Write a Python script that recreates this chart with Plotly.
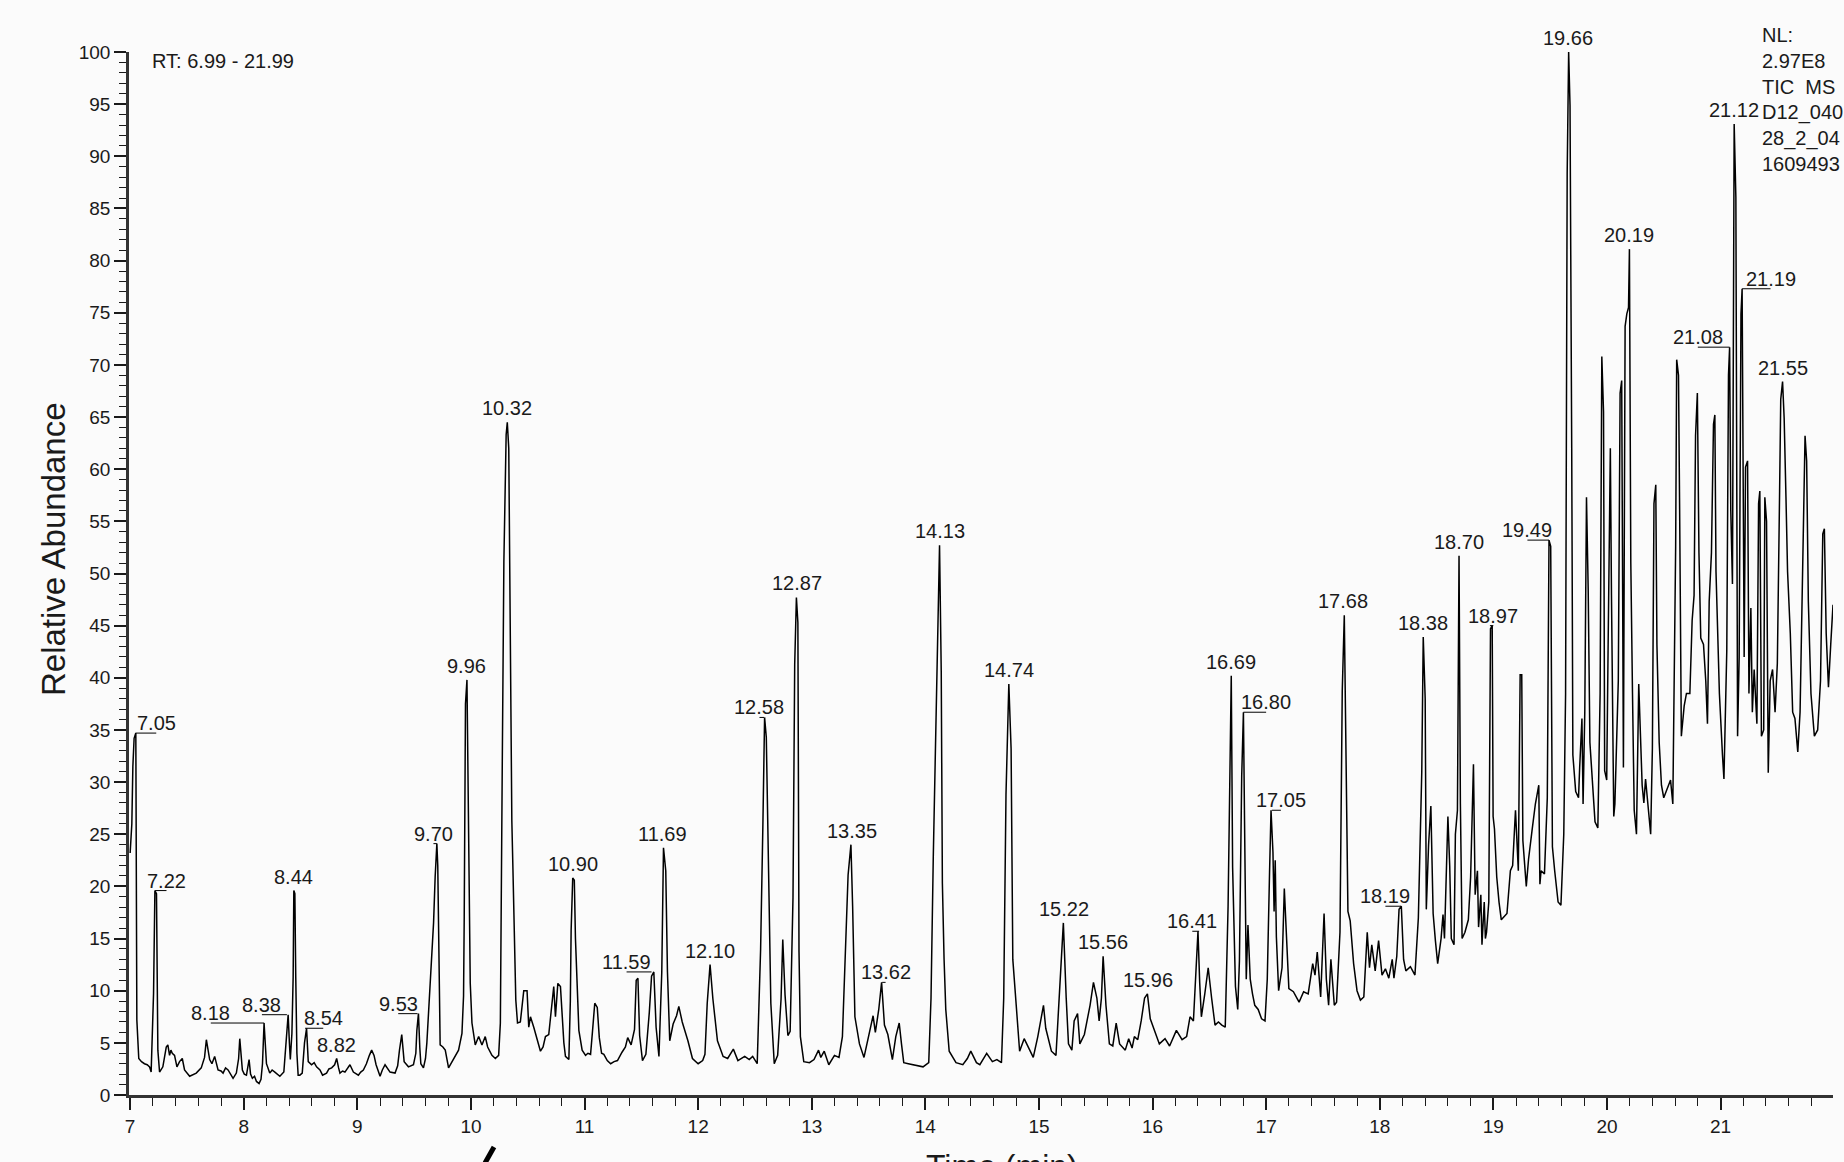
import plotly.graph_objects as go

# ---------------- data ----------------
# (retention time [min], relative abundance [%])
seg_07_09 = [
    (7.000, 23.2), (7.015, 26.0), (7.024, 31.5), (7.035, 34.2), (7.050, 34.7), (7.059, 7.2),
    (7.076, 3.5), (7.100, 3.2), (7.126, 3.0), (7.150, 2.9), (7.171, 2.7), (7.185, 2.2),
    (7.206, 9.7), (7.218, 19.6), (7.232, 19.3), (7.244, 4.3), (7.259, 2.2), (7.288, 2.7),
    (7.318, 4.6), (7.332, 4.8), (7.347, 3.8), (7.359, 4.3), (7.371, 4.0), (7.391, 3.8),
    (7.412, 2.7), (7.435, 3.2), (7.459, 3.5), (7.479, 2.4), (7.524, 1.8), (7.550, 1.9),
    (7.582, 2.1), (7.626, 2.6), (7.655, 3.6), (7.671, 5.3), (7.685, 4.3), (7.700, 3.4),
    (7.720, 3.0), (7.744, 3.7), (7.774, 2.4), (7.800, 2.3), (7.818, 2.1), (7.840, 2.6),
    (7.862, 2.4), (7.885, 2.0), (7.906, 1.6), (7.935, 2.1), (7.955, 3.5), (7.965, 5.4),
    (7.975, 4.0), (7.988, 2.4), (8.005, 2.0), (8.024, 1.9), (8.047, 3.4), (8.060, 2.0),
    (8.076, 1.6), (8.095, 1.8), (8.112, 1.3), (8.135, 1.1), (8.152, 1.5), (8.165, 3.0),
    (8.179, 6.9), (8.190, 4.5), (8.200, 3.0), (8.229, 2.1), (8.250, 2.4), (8.274, 2.2),
    (8.300, 2.0), (8.318, 1.8), (8.353, 2.2), (8.371, 5.0), (8.391, 7.7), (8.402, 5.0),
    (8.410, 3.4), (8.424, 5.9), (8.435, 11.3), (8.441, 19.6), (8.450, 19.3), (8.458, 11.3),
    (8.468, 4.0), (8.479, 1.9), (8.494, 1.9), (8.515, 2.1), (8.535, 5.0), (8.553, 6.4),
    (8.568, 3.2), (8.597, 2.9), (8.620, 3.1), (8.641, 2.7), (8.671, 2.4), (8.694, 1.9),
    (8.729, 2.1), (8.750, 2.5), (8.774, 2.6), (8.800, 2.9), (8.818, 3.5), (8.835, 2.6),
    (8.847, 2.1), (8.870, 2.3), (8.891, 2.2), (8.935, 2.9), (8.965, 2.2),
]
seg_09_11 = [
    (9.009, 1.9), (9.030, 2.2), (9.053, 2.4), (9.080, 3.0), (9.106, 3.8), (9.126, 4.3),
    (9.147, 3.8), (9.165, 2.9), (9.200, 1.8), (9.220, 2.4), (9.244, 2.9), (9.288, 2.2),
    (9.332, 2.1), (9.355, 2.8), (9.371, 4.3), (9.391, 5.8), (9.412, 3.2), (9.450, 2.7),
    (9.494, 2.9), (9.515, 4.0), (9.524, 6.2), (9.538, 7.8), (9.550, 4.5), (9.559, 3.0),
    (9.582, 2.6), (9.600, 3.5), (9.612, 5.0), (9.641, 10.7), (9.671, 16.5), (9.685, 20.9),
    (9.700, 24.1), (9.708, 22.0), (9.715, 15.2), (9.722, 9.0), (9.729, 4.8), (9.753, 4.6),
    (9.774, 4.3), (9.803, 2.6), (9.825, 3.0), (9.847, 3.5), (9.891, 4.3), (9.921, 5.9),
    (9.935, 9.5), (9.941, 17.1), (9.952, 37.5), (9.965, 39.8), (9.977, 29.9), (9.987, 17.0),
    (9.994, 10.7), (10.009, 6.9), (10.038, 4.8), (10.068, 5.6), (10.097, 4.8), (10.126, 5.6),
    (10.147, 4.6), (10.185, 3.8), (10.215, 3.5), (10.244, 3.8), (10.259, 6.9), (10.276, 32.0),
    (10.290, 51.2), (10.310, 63.3), (10.320, 64.5), (10.333, 62.0), (10.348, 36.9), (10.360, 26.3),
    (10.370, 21.5), (10.385, 11.8), (10.395, 9.1), (10.410, 6.9), (10.435, 7.0), (10.465, 10.0),
    (10.494, 10.0), (10.509, 6.5), (10.524, 7.5), (10.553, 6.5), (10.582, 5.3), (10.612, 4.2),
    (10.635, 4.6), (10.656, 5.6), (10.685, 5.8), (10.715, 9.1), (10.729, 10.4), (10.744, 7.5),
    (10.765, 10.7), (10.788, 10.4), (10.803, 7.5), (10.818, 5.0), (10.832, 3.7), (10.862, 3.4),
    (10.875, 9.0), (10.882, 15.8), (10.896, 20.8), (10.910, 20.6), (10.920, 15.0), (10.929, 11.7),
    (10.950, 6.2), (10.979, 4.3),
]
seg_11_13 = [
    (11.009, 3.8), (11.030, 4.0), (11.053, 3.9), (11.070, 6.1), (11.090, 8.8), (11.112, 8.4),
    (11.130, 5.5), (11.150, 4.0), (11.170, 3.9), (11.200, 3.3), (11.230, 3.0), (11.260, 3.2),
    (11.290, 3.3), (11.330, 4.1), (11.360, 4.6), (11.380, 5.5), (11.410, 4.8), (11.440, 6.3),
    (11.455, 11.0), (11.470, 11.2), (11.485, 5.7), (11.510, 3.3), (11.540, 3.9), (11.570, 7.9),
    (11.590, 11.4), (11.610, 11.8), (11.630, 6.5), (11.655, 3.7), (11.680, 11.8), (11.695, 23.7),
    (11.715, 21.5), (11.730, 11.8), (11.750, 5.2), (11.780, 6.8), (11.810, 7.6), (11.830, 8.5),
    (11.860, 7.0), (11.910, 5.2), (11.950, 3.5), (12.000, 3.0), (12.040, 3.3), (12.060, 3.9),
    (12.080, 8.8), (12.105, 12.5), (12.130, 9.2), (12.170, 5.2), (12.220, 3.7), (12.260, 3.5),
    (12.310, 4.4), (12.350, 3.3), (12.380, 3.5), (12.410, 3.7), (12.450, 3.4), (12.480, 3.7),
    (12.520, 3.0), (12.550, 14.0), (12.570, 25.9), (12.585, 36.2), (12.600, 34.3), (12.620, 19.3),
    (12.640, 8.8), (12.670, 3.0), (12.700, 3.8), (12.730, 9.2), (12.745, 14.9), (12.765, 9.6),
    (12.790, 5.7), (12.810, 6.1), (12.835, 18.9), (12.850, 41.3), (12.865, 47.7), (12.878, 45.3),
    (12.888, 13.7), (12.900, 5.6), (12.930, 3.2), (12.980, 3.1),
]
seg_13_15 = [
    (13.020, 3.4), (13.060, 4.3), (13.080, 3.6), (13.110, 4.2), (13.150, 2.9), (13.200, 3.8),
    (13.240, 3.6), (13.270, 5.6), (13.300, 14.8), (13.320, 21.1), (13.345, 24.0), (13.360, 18.1),
    (13.380, 7.5), (13.420, 4.9), (13.460, 3.6), (13.510, 6.0), (13.540, 7.6), (13.560, 6.0),
    (13.590, 8.2), (13.615, 10.8), (13.640, 6.7), (13.670, 5.8), (13.710, 3.4), (13.740, 5.6),
    (13.770, 6.9), (13.790, 4.9), (13.810, 3.1), (13.850, 3.0), (13.890, 2.9), (13.940, 2.8),
    (13.980, 2.7), (14.030, 3.1), (14.050, 9.3), (14.070, 22.9), (14.090, 35.0), (14.110, 46.0),
    (14.125, 52.7), (14.140, 40.6), (14.150, 20.3), (14.165, 13.0), (14.180, 8.2), (14.210, 4.2),
    (14.270, 3.1), (14.330, 2.9), (14.370, 3.5), (14.400, 4.2), (14.450, 3.1), (14.480, 2.9),
    (14.510, 3.4), (14.540, 4.0), (14.590, 3.2), (14.630, 3.4), (14.670, 3.1), (14.690, 9.3),
    (14.710, 28.8), (14.735, 39.4), (14.755, 33.2), (14.770, 13.0), (14.800, 8.6), (14.830, 4.2),
    (14.870, 5.4), (14.920, 4.2), (14.950, 3.6), (14.990, 5.6),
]
seg_15_17 = [
    (15.040, 8.6), (15.060, 6.4), (15.110, 4.2), (15.150, 3.8), (15.190, 11.5), (15.215, 16.5),
    (15.240, 9.3), (15.260, 4.9), (15.290, 4.3), (15.310, 7.1), (15.340, 7.8), (15.360, 4.9),
    (15.400, 5.8), (15.450, 8.6), (15.480, 10.8), (15.510, 9.3), (15.530, 7.1), (15.550, 9.3),
    (15.565, 13.3), (15.590, 8.6), (15.620, 4.9), (15.650, 4.7), (15.680, 6.9), (15.710, 4.9),
    (15.760, 4.3), (15.790, 5.4), (15.820, 4.5), (15.840, 5.6), (15.870, 5.3), (15.900, 7.1),
    (15.930, 9.3), (15.955, 9.7), (15.980, 7.3), (16.020, 6.0), (16.060, 4.9), (16.110, 5.4),
    (16.150, 4.7), (16.210, 6.2), (16.260, 5.3), (16.300, 5.6), (16.330, 7.5), (16.360, 7.1),
    (16.380, 11.9), (16.400, 15.7), (16.415, 10.8), (16.430, 7.5), (16.460, 9.7), (16.490, 12.2),
    (16.520, 9.3), (16.550, 6.7), (16.580, 7.0), (16.610, 6.7), (16.640, 6.5), (16.665, 18.1),
    (16.680, 29.9), (16.693, 40.2), (16.705, 21.8), (16.730, 10.4), (16.750, 8.2), (16.765, 12.9),
    (16.785, 30.6), (16.800, 36.7), (16.810, 26.2), (16.825, 11.1), (16.840, 16.3), (16.860, 11.1),
    (16.880, 9.7), (16.900, 8.6), (16.930, 8.2), (16.960, 7.3), (16.990, 7.1),
]
seg_17_19 = [
    (17.010, 11.1), (17.030, 21.3), (17.043, 27.3), (17.060, 23.3), (17.070, 17.6), (17.080, 22.5),
    (17.090, 15.2), (17.110, 10.0), (17.140, 12.2), (17.160, 19.8), (17.180, 14.4), (17.200, 10.2),
    (17.240, 9.9), (17.270, 9.3), (17.290, 8.9), (17.330, 9.9), (17.370, 9.7), (17.410, 12.6),
    (17.430, 11.5), (17.450, 13.7), (17.480, 9.4), (17.510, 17.4), (17.530, 11.1), (17.550, 8.6),
    (17.570, 13.0), (17.600, 8.6), (17.620, 8.9), (17.650, 15.6), (17.670, 38.7), (17.688, 46.0),
    (17.700, 33.9), (17.720, 17.6), (17.740, 16.7), (17.770, 12.6), (17.800, 10.0), (17.830, 9.1),
    (17.860, 9.4), (17.890, 15.6), (17.910, 12.2), (17.930, 14.4), (17.960, 11.9), (17.990, 14.8),
    (18.020, 11.5), (18.050, 12.1), (18.080, 11.2), (18.110, 13.0), (18.125, 11.2), (18.150, 13.3),
    (18.170, 17.8), (18.190, 18.1), (18.210, 13.0), (18.230, 11.9), (18.270, 12.3), (18.310, 11.5),
    (18.340, 17.0), (18.370, 31.0), (18.383, 43.9), (18.400, 38.0), (18.410, 17.8), (18.430, 24.0),
    (18.450, 27.7), (18.470, 17.4), (18.490, 14.8), (18.510, 12.6), (18.540, 15.0), (18.557, 17.3),
    (18.570, 15.0), (18.586, 22.6), (18.600, 26.7), (18.616, 22.0), (18.630, 15.0), (18.654, 14.4),
    (18.666, 25.0), (18.684, 27.3), (18.698, 51.7), (18.710, 27.9), (18.725, 15.0), (18.750, 15.6),
    (18.780, 16.8), (18.800, 20.9), (18.825, 31.7), (18.840, 19.2), (18.860, 21.5), (18.870, 16.1),
    (18.890, 19.2), (18.900, 14.4), (18.920, 18.5), (18.930, 15.0), (18.940, 15.6), (18.960, 18.5),
    (18.975, 44.7), (18.990, 45.0), (18.998, 26.7),
]
seg_19_20 = [
    (19.010, 25.5), (19.030, 20.9), (19.050, 18.5), (19.070, 16.8), (19.120, 17.4), (19.150, 21.5),
    (19.170, 22.0), (19.195, 27.3), (19.220, 21.5), (19.236, 40.3), (19.250, 40.3), (19.260, 24.4),
    (19.290, 20.0), (19.310, 22.6), (19.340, 25.3), (19.370, 27.9), (19.400, 29.7), (19.410, 20.2),
    (19.420, 21.5), (19.450, 21.2), (19.475, 28.5), (19.490, 53.2), (19.505, 52.6), (19.520, 23.8),
    (19.540, 21.5), (19.570, 18.5), (19.595, 18.2), (19.620, 25.0), (19.636, 38.5), (19.650, 88.4),
    (19.663, 100.0), (19.675, 94.9), (19.690, 62.0), (19.700, 32.6), (19.725, 29.1), (19.750, 28.5),
    (19.760, 31.4), (19.780, 36.1), (19.790, 27.9), (19.805, 36.7), (19.820, 57.3), (19.835, 48.5),
    (19.850, 33.8), (19.870, 30.3), (19.895, 26.2), (19.920, 25.6), (19.940, 38.5), (19.955, 70.8),
    (19.970, 65.5), (19.980, 31.1), (19.998, 30.2),
]
seg_20_21 = [
    (20.010, 42.6), (20.030, 62.0), (20.040, 47.9), (20.060, 26.7), (20.070, 27.9), (20.090, 35.0),
    (20.100, 39.7), (20.116, 67.3), (20.130, 68.5), (20.145, 31.4), (20.160, 73.7), (20.175, 74.9),
    (20.190, 75.5), (20.198, 81.1), (20.210, 51.1), (20.225, 38.5), (20.240, 27.3), (20.260, 25.0),
    (20.280, 39.4), (20.310, 29.7), (20.325, 28.0), (20.340, 30.3), (20.370, 26.7), (20.385, 25.0),
    (20.400, 33.2), (20.414, 56.7), (20.430, 58.5), (20.440, 43.2), (20.460, 33.8), (20.480, 29.7),
    (20.500, 28.5), (20.530, 29.4), (20.560, 30.2), (20.580, 27.9), (20.590, 37.3), (20.605, 52.6),
    (20.614, 70.5), (20.630, 69.0), (20.640, 56.1), (20.655, 34.4), (20.680, 37.3), (20.700, 38.5),
    (20.730, 38.5), (20.750, 45.5), (20.767, 47.9), (20.780, 63.2), (20.796, 67.3), (20.810, 52.0),
    (20.826, 43.8), (20.850, 43.2), (20.870, 39.7), (20.885, 35.6), (20.900, 47.3), (20.920, 52.0),
    (20.938, 64.3), (20.950, 65.2), (20.960, 50.2), (20.990, 38.5),
]
seg_21_22 = [
    (21.017, 32.6), (21.030, 30.3), (21.055, 42.6), (21.070, 69.0), (21.080, 71.7), (21.090, 56.1),
    (21.105, 49.0), (21.120, 93.1), (21.135, 86.1), (21.150, 34.4), (21.164, 42.0), (21.180, 74.9),
    (21.190, 77.3), (21.208, 42.0), (21.220, 60.2), (21.238, 60.8), (21.250, 38.5), (21.267, 46.7),
    (21.280, 36.7), (21.296, 40.8), (21.320, 35.6), (21.335, 56.7), (21.346, 57.9), (21.360, 34.4),
    (21.380, 35.0), (21.390, 57.3), (21.405, 55.0), (21.420, 30.9), (21.437, 39.7), (21.458, 40.8),
    (21.480, 36.7), (21.500, 41.4), (21.520, 57.9), (21.530, 66.7), (21.546, 68.4), (21.560, 64.9),
    (21.576, 57.3), (21.590, 50.2), (21.614, 44.3), (21.635, 36.7), (21.655, 36.1), (21.680, 32.9),
    (21.700, 36.7), (21.720, 50.2), (21.744, 63.2), (21.758, 60.8), (21.773, 47.3), (21.796, 38.5),
    (21.826, 34.4), (21.855, 35.0), (21.880, 39.7), (21.900, 53.8), (21.914, 54.3), (21.930, 44.3),
    (21.950, 39.1), (21.970, 43.2), (21.990, 47.0),
]

labelled_rt = [7.05, 7.22, 8.18, 8.38, 8.44, 8.54, 8.82, 9.53, 9.70, 9.96, 10.32, 10.90,
               11.59, 11.69, 12.10, 12.58, 12.87, 13.35, 13.62, 14.13, 14.74, 15.22, 15.56,
               15.96, 16.41, 16.69, 16.80, 17.05, 17.68, 18.19, 18.38, 18.70, 18.97, 19.49,
               19.66, 20.19, 21.08, 21.12, 21.19, 21.55]

x_tick_values = list(range(7, 22))
y_tick_values = list(range(0, 101, 5))
rt_range_text = "RT: 6.99 - 21.99"
header_lines = ["NL:", "2.97E8", "TIC\u00a0 MS", "D12_040", "28_2_04", "1609493"]
x_title = "Time (min)"
y_title = "Relative Abundance"

# ---------------- placement / style ----------------
# horizontal offset (min) of a label placed beside its peak, joined by a leader line
label_offset = {7.05: 0.18, 7.22: 0.10, 8.18: -0.47, 8.38: -0.22, 8.54: 0.16, 9.53: -0.17,
                9.70: -0.03, 11.59: -0.22, 12.58: -0.04, 13.62: 0.03, 16.41: -0.06,
                16.80: 0.20, 17.05: 0.08, 18.19: -0.14, 18.97: 0.03, 19.49: -0.19,
                21.08: -0.28, 21.19: 0.25}

W, H = 1844, 1162
ML, MR, MT, MB = 129, 11, 52, 67
PW, PH = W - ML - MR, H - MT - MB
BG = "#fbfbfb"
INK = "#1a1a1a"
FONT = "Liberation Sans, Arial, sans-serif"
LABEL_SIZE = 20
TICK_SIZE = 19


def px_to_paper(px, py):
    return (px - ML) / PW, (H - MB - py) / PH


trace = seg_07_09 + seg_09_11 + seg_11_13 + seg_13_15 + seg_15_17 + seg_17_19 + seg_19_20 + seg_20_21 + seg_21_22
times = [p[0] for p in trace]
values = [p[1] for p in trace]


def peak_height(rt):
    return max(v for t, v in trace if abs(t - rt) <= 0.02)


fig = go.Figure()
fig.add_trace(go.Scatter(x=times, y=values, mode="lines",
                         line=dict(color="black", width=1.5), hoverinfo="skip"))

lead_x, lead_y = [], []
annotations = []
for rt in labelled_rt:
    h = peak_height(rt)
    dx = label_offset.get(rt, 0.0)
    if dx:
        lead_x += [rt, rt + dx, None]
        lead_y += [h, h, None]
    annotations.append(dict(x=rt + dx, y=h, xref="x", yref="y", text=f"{rt:.2f}",
                            showarrow=False, xanchor="center", yanchor="bottom",
                            yshift=-3 if dx else 1,
                            font=dict(family=FONT, size=LABEL_SIZE, color=INK)))

fig.add_trace(go.Scatter(x=lead_x, y=lead_y, mode="lines",
                         line=dict(color="black", width=1), hoverinfo="skip"))

# RT range text
ax_, ay_ = px_to_paper(150, 61)
annotations.append(dict(x=ax_, y=ay_, xref="paper", yref="paper", text=rt_range_text,
                        showarrow=False, xanchor="left", yanchor="middle",
                        font=dict(family=FONT, size=LABEL_SIZE, color=INK)))
# header block (top right)
for i, line in enumerate(header_lines):
    hx, hy = px_to_paper(1760, 35 + i * 25.8)
    annotations.append(dict(x=hx, y=hy, xref="paper", yref="paper", text=line,
                            showarrow=False, xanchor="left", yanchor="middle",
                            font=dict(family=FONT, size=LABEL_SIZE, color=INK)))
# axis titles
tx, ty = px_to_paper(53, 549)
annotations.append(dict(x=tx, y=ty, xref="paper", yref="paper", text=y_title,
                        showarrow=False, textangle=-90, xanchor="center", yanchor="middle",
                        font=dict(family=FONT, size=33, color=INK)))
bx, by = px_to_paper(1002, 1146)
annotations.append(dict(x=bx, y=by, xref="paper", yref="paper", text=x_title,
                        showarrow=False, xanchor="center", yanchor="top",
                        font=dict(family=FONT, size=32, color=INK)))

# pen-stroke mark below the axis
s0x, s0y = px_to_paper(485, 1163)
s1x, s1y = px_to_paper(494, 1147)
shapes = [dict(type="line", xref="paper", yref="paper", x0=s0x, y0=s0y, x1=s1x, y1=s1y,
               line=dict(color="black", width=5))]

fig.update_layout(
    width=W, height=H,
    margin=dict(l=ML, r=MR, t=MT, b=MB, autoexpand=False),
    paper_bgcolor=BG, plot_bgcolor=BG,
    showlegend=False,
    annotations=annotations,
    shapes=shapes,
    font=dict(family=FONT, color=INK),
    xaxis=dict(range=[6.99, 21.99], tickmode="array", tickvals=x_tick_values,
               ticks="outside", ticklen=12, tickwidth=1.5, tickcolor=INK,
               showline=True, linecolor="#333333", linewidth=2.5,
               showgrid=False, zeroline=False, automargin=False,
               tickfont=dict(family=FONT, size=TICK_SIZE, color=INK),
               minor=dict(tick0=7, dtick=0.2, ticks="outside", ticklen=8,
                          tickwidth=1.3, tickcolor=INK, showgrid=False)),
    yaxis=dict(range=[0, 100], tickmode="array", tickvals=y_tick_values,
               ticks="outside", ticklen=12, tickwidth=1.5, tickcolor=INK,
               showline=True, linecolor="#333333", linewidth=2.5,
               showgrid=False, zeroline=False, automargin=False,
               tickfont=dict(family=FONT, size=TICK_SIZE, color=INK),
               minor=dict(tick0=0, dtick=1, ticks="outside", ticklen=7,
                          tickwidth=1.3, tickcolor=INK, showgrid=False)),
)

fig.write_html(
    "out.html",
    config={"displayModeBar": False},
    post_script="document.body.style.margin='0px';document.body.style.overflow='hidden';"
                "document.body.style.background='" + BG + "';",
)
